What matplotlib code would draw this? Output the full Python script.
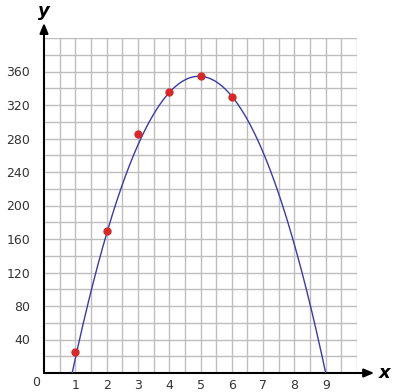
import numpy as np
import matplotlib.pyplot as plt

# data
point_x = [1, 2, 3, 4, 5, 6]
point_y = [25, 170, 285, 335, 355, 330]
# quadratic model drawn as the blue curve: y = a*x^2 + b*x + c
curve_coef = [-21.6, 213.84, -174.96]
x_ticks = [1, 2, 3, 4, 5, 6, 7, 8, 9]
y_ticks = [40, 80, 120, 160, 200, 240, 280, 320, 360]

fig = plt.figure(figsize=(3.97, 3.92), dpi=100)
ax = fig.add_axes([44 / 397, 19 / 392, 313 / 397, 335 / 392])

ax.set_xlim(0, 10)
ax.set_ylim(0, 400)

# half-unit vertical and 20-unit horizontal grid
for gx in np.arange(0.5, 10.01, 0.5):
    ax.axvline(gx, color="#bdbdbd", linewidth=1.0, zorder=0)
for gy in np.arange(20, 401, 20):
    ax.axhline(gy, color="#bdbdbd", linewidth=1.0, zorder=0)

for side in ["top", "right", "left", "bottom"]:
    ax.spines[side].set_visible(False)

# axes with arrows
ax.annotate("", xy=(0, 418), xytext=(0, 0), xycoords="data",
            arrowprops=dict(arrowstyle="-|>,head_length=0.6,head_width=0.25",
                            color="black", linewidth=1.5, shrinkA=0, shrinkB=0),
            annotation_clip=False)
ax.annotate("", xy=(10.55, 0), xytext=(0, 0), xycoords="data",
            arrowprops=dict(arrowstyle="-|>,head_length=0.6,head_width=0.25",
                            color="black", linewidth=1.5, shrinkA=0, shrinkB=0),
            annotation_clip=False)

xs = np.linspace(0, 10, 400)
ys = np.polyval(curve_coef, xs)
mask = ys >= 0
ax.plot(xs[mask], ys[mask], color="#3a3aa8", linewidth=1.0, zorder=3)
ax.scatter(point_x, point_y, s=36, color="#d42a2a", zorder=4, linewidths=0)

ax.set_xticks(x_ticks)
ax.set_yticks(y_ticks)
ax.tick_params(length=0, labelsize=9, colors="#333333", pad=4)
ax.tick_params(axis="y", pad=10)

ax.text(-0.26, -11, "0", ha="center", va="center", fontsize=9, color="#333333")
ax.text(0, 421, "y", ha="center", va="bottom", fontsize=13,
        fontweight="bold", fontstyle="italic")
ax.text(10.7, 0, "x", ha="left", va="center", fontsize=13,
        fontweight="bold", fontstyle="italic")

fig.savefig("out.png", dpi=100)
